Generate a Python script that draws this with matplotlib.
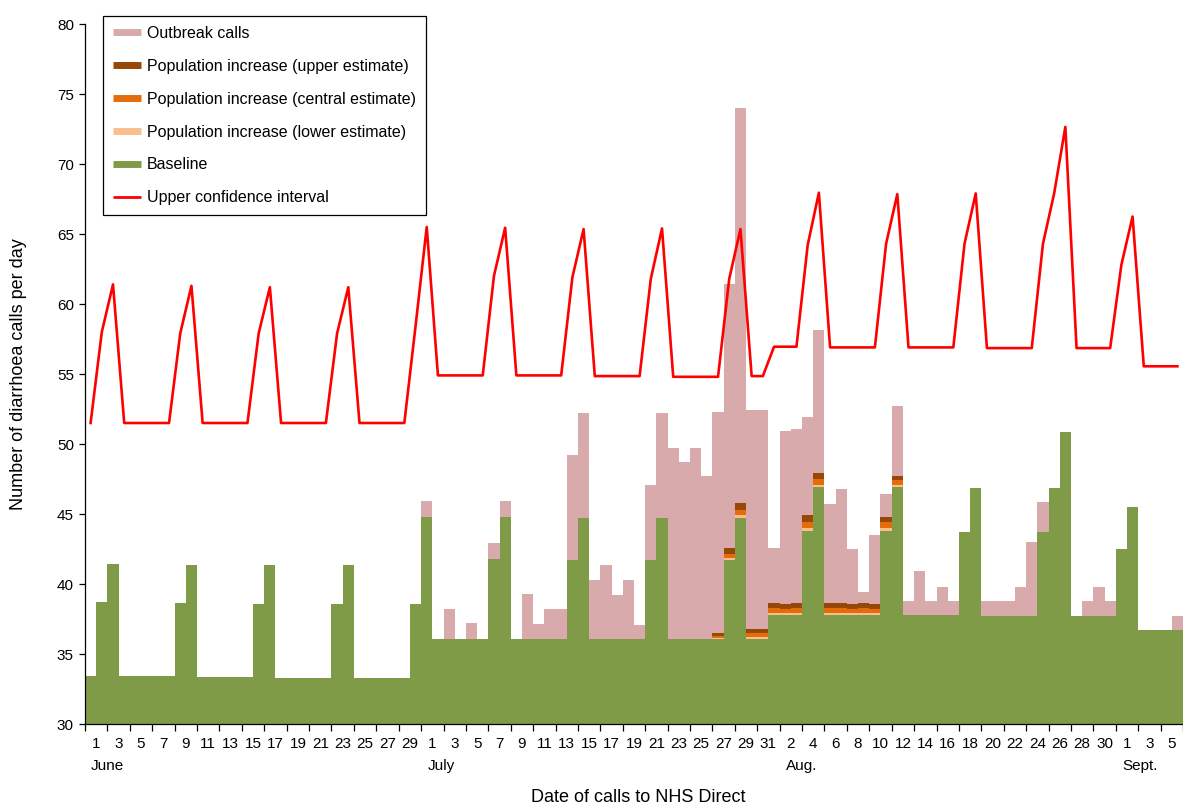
import numpy as np
import matplotlib
matplotlib.use("Agg")
import matplotlib.pyplot as plt
from matplotlib.lines import Line2D

plt.rcParams["font.family"] = ["Liberation Sans", "DejaVu Sans"]

# Daily values, 1 June to 6 September (one bar per day)
baseline = [
    # June
    33.4, 38.7, 41.4, 33.4, 33.4, 33.4, 33.4, 33.4, 38.65, 41.35,
    33.35, 33.35, 33.35, 33.35, 33.35, 38.6, 41.35, 33.3, 33.3, 33.3,
    33.3, 33.3, 38.6, 41.35, 33.3, 33.3, 33.3, 33.3, 33.3, 38.55,
    # July
    44.8, 36.1, 36.1, 36.1, 36.1, 36.1, 41.8, 44.8, 36.1, 36.1,
    36.1, 36.1, 36.1, 41.75, 44.75, 36.05, 36.05, 36.05, 36.05, 36.05,
    41.7, 44.75, 36.05, 36.05, 36.05, 36.05, 36.05, 41.7, 44.7, 36.05,
    36.05,
    # August
    37.8, 37.8, 37.8, 43.8, 46.9, 37.8, 37.8, 37.8, 37.8, 37.8,
    43.8, 46.9, 37.8, 37.8, 37.8, 37.8, 37.8, 43.7, 46.85, 37.7,
    37.7, 37.7, 37.7, 37.7, 43.7, 46.85, 50.85, 37.7, 37.7, 37.7,
    37.7,
    # September
    42.5, 45.5, 36.7, 36.7, 36.7, 36.7,
]

# population increase layers, 27 July to 12 August
pop_first_day = 56
pop_lower = [0.1, 0.15, 0.2, 0.15, 0.15, 0.15, 0.15, 0.15, 0.2,
             0.2, 0.15, 0.15, 0.15, 0.15, 0.15, 0.2, 0.15]
pop_central = [0.15, 0.3, 0.4, 0.3, 0.3, 0.35, 0.3, 0.35, 0.4,
               0.4, 0.35, 0.35, 0.3, 0.35, 0.3, 0.4, 0.35]
pop_upper = [0.2, 0.4, 0.45, 0.3, 0.3, 0.35, 0.3, 0.35, 0.5,
             0.4, 0.35, 0.35, 0.35, 0.35, 0.3, 0.4, 0.35]

outbreak = [
    # June
    0, 0, 0, 0, 0, 0, 0, 0, 0, 0,
    0, 0, 0, 0, 0, 0, 0, 0, 0, 0,
    0, 0, 0, 0, 0, 0, 0, 0, 0, 0,
    # July
    1.1, 0, 2.15, 0, 1.1, 0, 1.1, 1.1, 0, 3.2,
    1.05, 2.1, 2.1, 7.45, 7.5, 4.25, 5.3, 3.15, 4.25, 1.05,
    5.35, 7.45, 13.7, 12.7, 13.7, 11.65, 15.8, 18.85, 28.25, 15.65,
    15.65,
    # August
    3.95, 12.4, 12.4, 7.05, 10.25, 7.1, 8.15, 3.9, 0.75, 4.95,
    1.65, 5.0, 1.0, 3.15, 1.0, 2.0, 1.0, 0, 0, 1.1,
    1.1, 1.1, 2.1, 5.3, 2.15, 0, 0, 0, 1.1, 2.1,
    1.1,
    # September
    0, 0, 0, 0, 0, 1.0,
]

upper_ci = [
    # June
    51.5, 58.0, 61.4, 51.5, 51.5, 51.5, 51.5, 51.5, 57.9, 61.3,
    51.5, 51.5, 51.5, 51.5, 51.5, 57.9, 61.2, 51.5, 51.5, 51.5,
    51.5, 51.5, 57.9, 61.2, 51.5, 51.5, 51.5, 51.5, 51.5, 58.4,
    # July
    65.5, 54.9, 54.9, 54.9, 54.9, 54.9, 62.0, 65.45, 54.9, 54.9,
    54.9, 54.9, 54.9, 61.9, 65.35, 54.85, 54.85, 54.85, 54.85, 54.85,
    61.8, 65.4, 54.8, 54.8, 54.8, 54.8, 54.8, 61.8, 65.35, 54.85,
    54.85,
    # August
    56.95, 56.95, 56.95, 64.2, 67.95, 56.9, 56.9, 56.9, 56.9, 56.9,
    64.3, 67.85, 56.9, 56.9, 56.9, 56.9, 56.9, 64.3, 67.9, 56.85,
    56.85, 56.85, 56.85, 56.85, 64.3, 67.9, 72.65, 56.85, 56.85, 56.85,
    56.85,
    # September
    62.8, 66.25, 55.55, 55.55, 55.55, 55.55,
]

# day-of-month tick labels (every second day)
day_labels = (list(range(1, 30, 2)) + list(range(1, 32, 2))
              + list(range(2, 31, 2)) + [1, 3, 5])
months = ["June", "July", "Aug.", "Sept."]
month_first_label = [0, 15, 31, 46]  # index into day_labels

col_base = "#7F9B48"
col_out = "#D9AAAC"
col_low = "#F9BF8F"
col_mid = "#E46C0A"
col_up = "#974806"
col_ci = "#FF0000"

n = len(baseline)
days = np.arange(n)
edges = np.arange(n + 1) - 0.5

base = np.array(baseline)
low = np.zeros(n)
mid = np.zeros(n)
up = np.zeros(n)
sl = slice(pop_first_day, pop_first_day + len(pop_lower))
low[sl] = pop_lower
mid[sl] = pop_central
up[sl] = pop_upper
out = np.array(outbreak)

fig = plt.figure(figsize=(11.83, 8.07), dpi=100)
ax = fig.add_axes([85 / 1183, 83 / 807, 1098 / 1183, 700 / 807])

# stacked layers: baseline, population increase, outbreak calls
b1 = base
b2 = b1 + low
b3 = b2 + mid
b4 = b3 + up
b5 = b4 + out
ax.stairs(b1, edges, baseline=0, fill=True, color=col_base, lw=0)
ax.stairs(b2, edges, baseline=b1, fill=True, color=col_low, lw=0)
ax.stairs(b3, edges, baseline=b2, fill=True, color=col_mid, lw=0)
ax.stairs(b4, edges, baseline=b3, fill=True, color=col_up, lw=0)
ax.stairs(b5, edges, baseline=b4, fill=True, color=col_out, lw=0)
ax.plot(days, upper_ci, color=col_ci, lw=1.9, zorder=3)

ax.set_xlim(-0.5, -0.5 + 1098 / 11.3)
ax.set_ylim(30, 80)

ax.spines["top"].set_visible(False)
ax.spines["right"].set_visible(False)
for s in ["left", "bottom"]:
    ax.spines[s].set_linewidth(0.9)

ax.set_yticks(np.arange(30, 81, 5))
ax.tick_params(axis="y", direction="out", length=4.5, width=0.9,
               labelsize=11, pad=3.5)

label_pos = np.arange(len(day_labels)) * 2 + 0.5
ax.set_xticks(np.arange(-0.5, n, 2))
ax.set_xticklabels([])
ax.tick_params(axis="x", which="major", direction="out", length=5, width=0.9)
ax.set_xticks(label_pos, minor=True)
ax.set_xticklabels([str(d) for d in day_labels], minor=True)
ax.tick_params(axis="x", which="minor", length=0, labelsize=11, pad=9)

for m, i in zip(months, month_first_label):
    ax.text(label_pos[i] - 0.45, -0.06, m, transform=ax.get_xaxis_transform(),
            ha="left", va="center", fontsize=11)

fig.text(19 / 1183, 1 - 374 / 807, "Number of diarrhoea calls per day",
         rotation=90, ha="center", va="center", fontsize=13)
fig.text(638 / 1183, 1 - 797 / 807, "Date of calls to NHS Direct",
         ha="center", va="center", fontsize=13)

handles = [
    Line2D([], [], color=col_out, lw=5, solid_capstyle="butt"),
    Line2D([], [], color=col_up, lw=5, solid_capstyle="butt"),
    Line2D([], [], color=col_mid, lw=5, solid_capstyle="butt"),
    Line2D([], [], color=col_low, lw=5, solid_capstyle="butt"),
    Line2D([], [], color=col_base, lw=5, solid_capstyle="butt"),
    Line2D([], [], color=col_ci, lw=2, solid_capstyle="butt"),
]
names = ["Outbreak calls", "Population increase (upper estimate)",
         "Population increase (central estimate)",
         "Population increase (lower estimate)", "Baseline",
         "Upper confidence interval"]
leg = fig.legend(handles, names, loc="upper left",
                 bbox_to_anchor=(103 / 1183, 1 - 16 / 807),
                 fontsize=11.5, frameon=True, fancybox=False,
                 edgecolor="black", framealpha=1, handlelength=1.75,
                 handletextpad=0.4, labelspacing=1.12, borderpad=0.62,
                 borderaxespad=0)
leg.get_frame().set_linewidth(0.9)

fig.savefig("out.png", dpi=100)
